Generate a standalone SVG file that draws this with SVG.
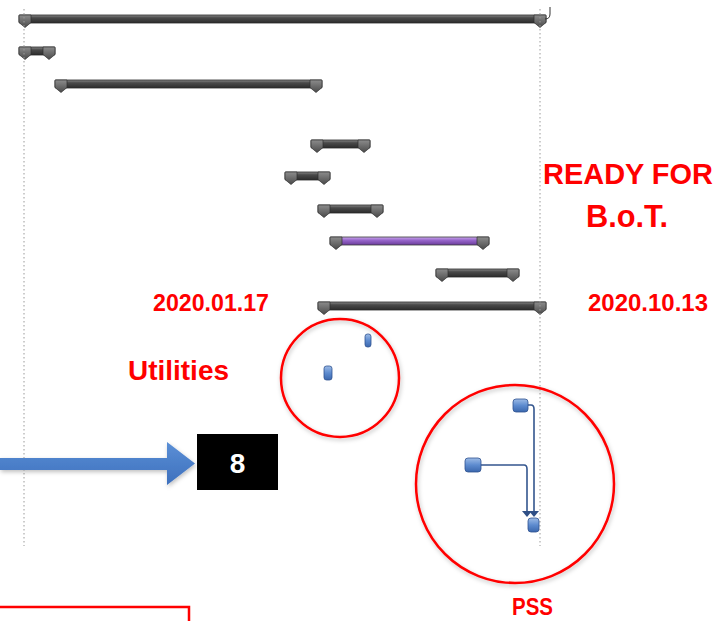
<svg xmlns="http://www.w3.org/2000/svg" xmlns:xlink="http://www.w3.org/1999/xlink" width="722" height="621" viewBox="0 0 722 621">
<style>
.lbl{font-family:"Liberation Sans",Arial,sans-serif;font-weight:bold;fill:#FF0000}
.bar{fill:url(#barG);stroke:#2a2a2a;stroke-width:0.8}
.pbar{fill:url(#purG);stroke:#3a3a3a;stroke-width:0.8}
.dot{stroke:#9a9a9a;stroke-width:1;stroke-dasharray:1.5 2.5;fill:none}
.ring{fill:none;stroke:#FF0000;stroke-width:2.5;filter:url(#sh)}
.task{fill:url(#nodeG);stroke:#2f528f;stroke-width:0.8}
.conn{fill:none;stroke:#34568e;stroke-width:1.6}
.arrh{fill:#2f4f86}
</style>
<defs>
<linearGradient id="barG" x1="0" y1="0" x2="0" y2="1">
<stop offset="0" stop-color="#8a8a8a"/><stop offset="0.35" stop-color="#4a4a4a"/><stop offset="1" stop-color="#2c2c2c"/>
</linearGradient>
<linearGradient id="purG" x1="0" y1="0" x2="0" y2="1">
<stop offset="0" stop-color="#c9a8ec"/><stop offset="0.4" stop-color="#9866cc"/><stop offset="1" stop-color="#6a3c9a"/>
</linearGradient>
<linearGradient id="capG" x1="0" y1="0" x2="0" y2="1">
<stop offset="0" stop-color="#8c8c8c"/><stop offset="1" stop-color="#4a4a4a"/>
</linearGradient>
<linearGradient id="nodeG" x1="0" y1="0" x2="0" y2="1">
<stop offset="0" stop-color="#9dbbe6"/><stop offset="0.5" stop-color="#5d8bcf"/><stop offset="1" stop-color="#3b67ad"/>
</linearGradient>
<linearGradient id="arrG" x1="0" y1="0" x2="0" y2="1">
<stop offset="0" stop-color="#5b8fd6"/><stop offset="1" stop-color="#3d70bd"/>
</linearGradient>
<filter id="sh" x="-20%" y="-20%" width="140%" height="140%">
<feDropShadow dx="1" dy="2" stdDeviation="2" flood-color="#000" flood-opacity="0.25"/>
</filter>
<path id="cap" d="M0,0 H12 V7.5 L6,12.5 L0,7.5 Z" fill="url(#capG)" stroke="#2e2e2e" stroke-width="0.7"/>
</defs>

<g id="gantt">
<g id="bar1"><rect class="bar" x="19" y="15" width="527" height="8" rx="1"/><use href="#cap" x="19" y="15"/><use href="#cap" x="534" y="15"/><path d="M545,19 Q550,19 550,14 V7" fill="none" stroke="#333" stroke-width="1"/></g>
<g id="bar2"><rect class="bar" x="19" y="47" width="36" height="8" rx="1"/><use href="#cap" x="19" y="47"/><use href="#cap" x="43" y="47"/></g>
<g id="bar3"><rect class="bar" x="55" y="80" width="267" height="8" rx="1"/><use href="#cap" x="55" y="80"/><use href="#cap" x="310" y="80"/></g>
<g id="bar4"><rect class="bar" x="311" y="140" width="59" height="8" rx="1"/><use href="#cap" x="311" y="140"/><use href="#cap" x="358" y="140"/></g>
<g id="bar5"><rect class="bar" x="285" y="172" width="45" height="8" rx="1"/><use href="#cap" x="285" y="172"/><use href="#cap" x="318" y="172"/></g>
<g id="bar6"><rect class="bar" x="318" y="205" width="65" height="8" rx="1"/><use href="#cap" x="318" y="205"/><use href="#cap" x="371" y="205"/></g>
<g id="bar7"><rect class="pbar" x="330" y="237" width="159" height="8" rx="1"/><use href="#cap" x="330" y="237"/><use href="#cap" x="477" y="237"/></g>
<g id="bar8"><rect class="bar" x="436" y="269" width="83" height="8" rx="1"/><use href="#cap" x="436" y="269"/><use href="#cap" x="507" y="269"/></g>
<g id="bar9"><rect class="bar" x="318" y="302" width="228" height="8" rx="1"/><use href="#cap" x="318" y="302"/><use href="#cap" x="534" y="302"/></g>
</g>

<g id="gridlines">
<line class="dot" x1="24" y1="9" x2="24" y2="546"/>
<line class="dot" x1="540" y1="9" x2="540" y2="546"/>
</g>

<g id="labels">
<text class="lbl" x="628" y="184" font-size="30" text-anchor="middle" textLength="170" lengthAdjust="spacingAndGlyphs">READY FOR</text>
<text class="lbl" x="627" y="227" font-size="31" text-anchor="middle" textLength="82" lengthAdjust="spacingAndGlyphs">B.o.T.</text>
<text class="lbl" x="153" y="311" font-size="23" textLength="116" lengthAdjust="spacingAndGlyphs">2020.01.17</text>
<text class="lbl" x="588" y="311" font-size="23" textLength="120" lengthAdjust="spacingAndGlyphs">2020.10.13</text>
<text class="lbl" x="128" y="380" font-size="27" textLength="101" lengthAdjust="spacingAndGlyphs">Utilities</text>
<text class="lbl" x="512" y="615" font-size="23" textLength="41" lengthAdjust="spacingAndGlyphs">PSS</text>
</g>

<g id="utilities-circle"><circle class="ring" cx="340" cy="378" r="59"/></g>
<g id="pss-circle"><circle class="ring" cx="515" cy="484" r="99"/></g>

<g id="u-task1"><rect class="task" x="365" y="334" width="6" height="13" rx="2.5"/></g>
<g id="u-task2"><rect class="task" x="324" y="366" width="8" height="14" rx="2.5"/></g>

<g id="connectors">
<path class="conn" d="M528,405 H531 Q534,405 534,409 V513"/>
<path class="conn" d="M481,465 H524 Q527,465 527,469 V513"/>
<polygon class="arrh" points="522,511 532,511 527,517"/>
<polygon class="arrh" points="529,511 539,511 534,517"/>
</g>

<g id="pss-task1"><rect class="task" x="513" y="399" width="15" height="13" rx="3"/></g>
<g id="pss-task2"><rect class="task" x="465" y="458" width="16" height="14" rx="3"/></g>
<g id="pss-task3"><rect class="task" x="528" y="518" width="11" height="14" rx="3"/></g>

<g id="pointer-arrow"><path d="M0,458 H167 V442 L195,463.5 L167,485 V470 H0 Z" fill="url(#arrG)" filter="url(#sh)"/></g>

<g id="box8">
<rect x="197" y="434" width="81" height="56" fill="#000"/>
<text x="237.5" y="473" font-family="Liberation Sans,Arial,sans-serif" font-weight="bold" font-size="28" fill="#fff" text-anchor="middle">8</text>
</g>

<g id="red-frame"><path d="M0,607 H189 V621" fill="none" stroke="#FF0000" stroke-width="2.5"/></g>
</svg>
